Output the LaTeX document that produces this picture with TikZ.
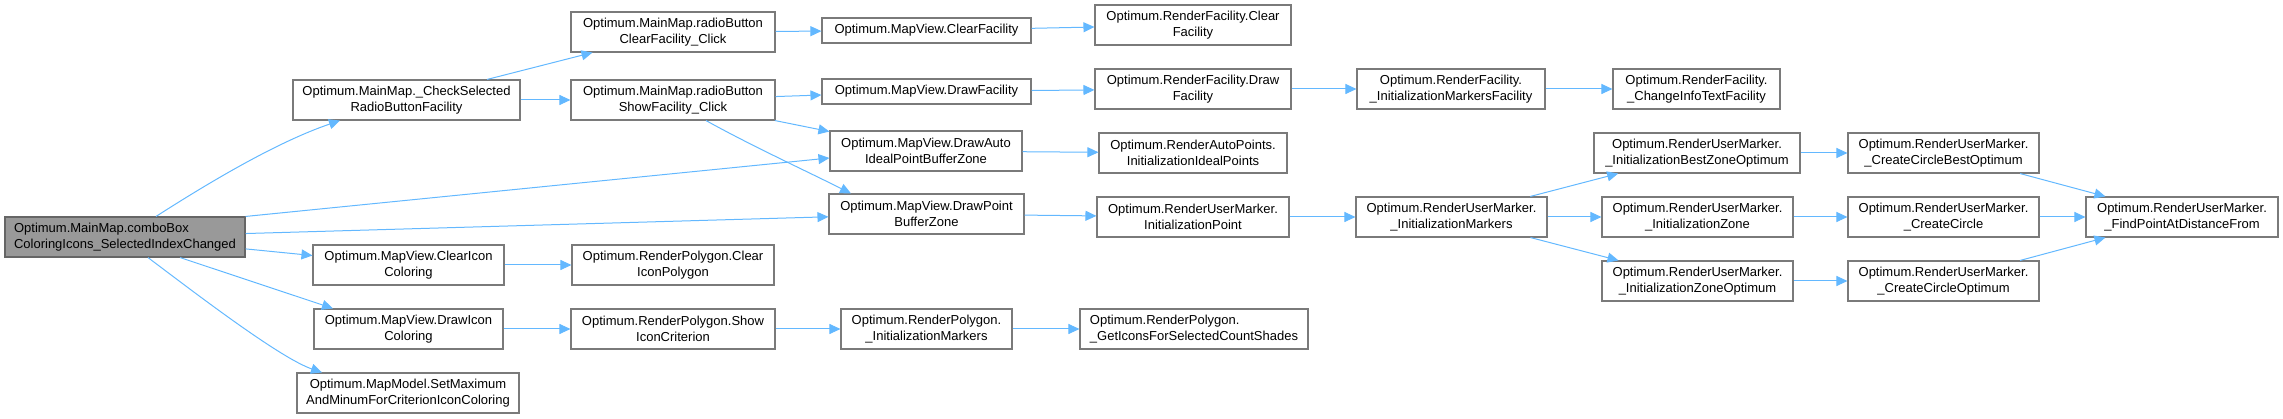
\documentclass[tikz,border=0pt]{standalone}
\usepackage{fontspec}
\setmainfont{Liberation Sans}
\usetikzlibrary{arrows.meta}
\definecolor{edgeblue}{HTML}{63B8FF}
\definecolor{boxline}{HTML}{7A7A7A}
\definecolor{rootfill}{HTML}{999999}
\definecolor{rootline}{HTML}{666666}
\begin{document}
\begin{tikzpicture}[x=1pt,y=-1pt,
  fn/.style={draw=boxline, fill=white, line width=1.1pt, rectangle, inner sep=0pt,
    align=center, font=\fontsize{13}{15.5}\selectfont, minimum height=40pt},
  rootfn/.style={fn, fill=rootfill, draw=rootline, align=left},
  calledge/.style={draw=edgeblue, line width=1pt, -{Triangle[length=11pt,width=10pt]}}]
\useasboundingbox (0,0) rectangle (2283,419);
% column 0
\node[rootfn, minimum width=240pt] (combo) at (125,237) {Optimum.MainMap.comboBox\\ColoringIcons\_SelectedIndexChanged};
% column 1
\node[fn, minimum width=227pt] (check) at (406.5,100) {Optimum.MainMap.\_CheckSelected\\RadioButtonFacility};
\node[fn, minimum width=191pt] (clearicon) at (408.5,265) {Optimum.MapView.ClearIcon\\Coloring};
\node[fn, minimum width=189pt] (drawicon) at (408.5,329) {Optimum.MapView.DrawIcon\\Coloring};
\node[fn, minimum width=222pt] (setmax) at (408,393) {Optimum.MapModel.SetMaximum\\AndMinumForCriterionIconColoring};
% column 2
\node[fn, minimum width=204pt] (rbclear) at (673,32) {Optimum.MainMap.radioButton\\ClearFacility\_Click};
\node[fn, minimum width=204pt] (rbshow) at (673,100) {Optimum.MainMap.radioButton\\ShowFacility\_Click};
\node[fn, minimum width=202pt] (cleariconpoly) at (673,265) {Optimum.RenderPolygon.Clear\\IconPolygon};
\node[fn, minimum width=204pt] (showicon) at (673,329) {Optimum.RenderPolygon.Show\\IconCriterion};
% column 3
\node[fn, minimum width=209pt, minimum height=25pt] (mvclearfac) at (926.5,30.5) {Optimum.MapView.ClearFacility};
\node[fn, minimum width=209pt, minimum height=25pt] (mvdrawfac) at (926.5,91.5) {Optimum.MapView.DrawFacility};
\node[fn, minimum width=192pt] (drawauto) at (926,151) {Optimum.MapView.DrawAuto\\IdealPointBufferZone};
\node[fn, minimum width=195pt] (drawpoint) at (926.5,214) {Optimum.MapView.DrawPoint\\BufferZone};
\node[fn, minimum width=171pt] (rpinit) at (926.5,329) {Optimum.RenderPolygon.\\\_InitializationMarkers};
% column 4
\node[fn, minimum width=196pt] (rfclear) at (1193,25) {Optimum.RenderFacility.Clear\\Facility};
\node[fn, minimum width=196pt] (rfdraw) at (1193,89) {Optimum.RenderFacility.Draw\\Facility};
\node[fn, minimum width=188pt] (idealpts) at (1193,153) {Optimum.RenderAutoPoints.\\InitializationIdealPoints};
\node[fn, minimum width=192pt] (initpoint) at (1193,217) {Optimum.RenderUserMarker.\\InitializationPoint};
\node[fn, minimum width=228pt, align=left] (geticons) at (1194,329) {Optimum.RenderPolygon.\\\_GetIconsForSelectedCountShades};
% column 5
\node[fn, minimum width=188pt] (rfinit) at (1451,89) {Optimum.RenderFacility.\\\_InitializationMarkersFacility};
\node[fn, minimum width=191pt] (ruminit) at (1451.5,217) {Optimum.RenderUserMarker.\\\_InitializationMarkers};
% column 6
\node[fn, minimum width=167pt] (rfinfo) at (1696.5,89) {Optimum.RenderFacility.\\\_ChangeInfoTextFacility};
\node[fn, minimum width=206pt] (bestzone) at (1697,153) {Optimum.RenderUserMarker.\\\_InitializationBestZoneOptimum};
\node[fn, minimum width=191pt] (zone) at (1697.5,217) {Optimum.RenderUserMarker.\\\_InitializationZone};
\node[fn, minimum width=191pt] (zoneopt) at (1697.5,281) {Optimum.RenderUserMarker.\\\_InitializationZoneOptimum};
% column 7
\node[fn, minimum width=191pt] (circbest) at (1943.5,153) {Optimum.RenderUserMarker.\\\_CreateCircleBestOptimum};
\node[fn, minimum width=191pt] (circ) at (1943.5,217) {Optimum.RenderUserMarker.\\\_CreateCircle};
\node[fn, minimum width=191pt] (circopt) at (1943.5,281) {Optimum.RenderUserMarker.\\\_CreateCircleOptimum};
% column 8
\node[fn, minimum width=192pt] (findpt) at (2182,217) {Optimum.RenderUserMarker.\\\_FindPointAtDistanceFrom};
% edges from root
\draw[calledge] ([xshift=31pt]combo.north) .. controls (216,178) and (280,141) .. ([xshift=-66.5pt]check.south);
\draw[calledge] (combo.north east) -- ([yshift=-7pt]drawauto.west);
\draw[calledge] (combo) -- (drawpoint);
\draw[calledge] (combo) -- (clearicon);
\draw[calledge] ([xshift=55pt]combo.south) -- ([xshift=-75.5pt]drawicon.north);
\draw[calledge] ([xshift=23pt]combo.south) .. controls (195,293) and (280,358) .. ([xshift=-86pt]setmax.north);
% check selected
\draw[calledge] (check) -- (rbclear);
\draw[calledge] (check) -- (rbshow);
% radio buttons
\draw[calledge] (rbclear) -- (mvclearfac);
\draw[calledge] (rbshow) -- (mvdrawfac);
\draw[calledge] (rbshow) -- (drawauto);
\draw[calledge] ([xshift=33pt]rbshow.south) .. controls (750,145) and (800,168) .. ([xshift=-75.5pt]drawpoint.north);
% map view
\draw[calledge] (mvclearfac) -- (rfclear);
\draw[calledge] (mvdrawfac) -- (rfdraw);
\draw[calledge] (drawauto) -- (idealpts);
\draw[calledge] (drawpoint) -- (initpoint);
\draw[calledge] (rfdraw) -- (rfinit);
\draw[calledge] (rfinit) -- (rfinfo);
% icon coloring
\draw[calledge] (clearicon) -- (cleariconpoly);
\draw[calledge] (drawicon) -- (showicon);
\draw[calledge] (showicon) -- (rpinit);
\draw[calledge] (rpinit) -- (geticons);
% user marker
\draw[calledge] (initpoint) -- (ruminit);
\draw[calledge] (ruminit) -- (bestzone);
\draw[calledge] (ruminit) -- (zone);
\draw[calledge] (ruminit) -- (zoneopt);
\draw[calledge] (bestzone) -- (circbest);
\draw[calledge] (zone) -- (circ);
\draw[calledge] (zoneopt) -- (circopt);
\draw[calledge] (circbest) -- (findpt);
\draw[calledge] (circ) -- (findpt);
\draw[calledge] (circopt) -- (findpt);
\end{tikzpicture}
\end{document}
